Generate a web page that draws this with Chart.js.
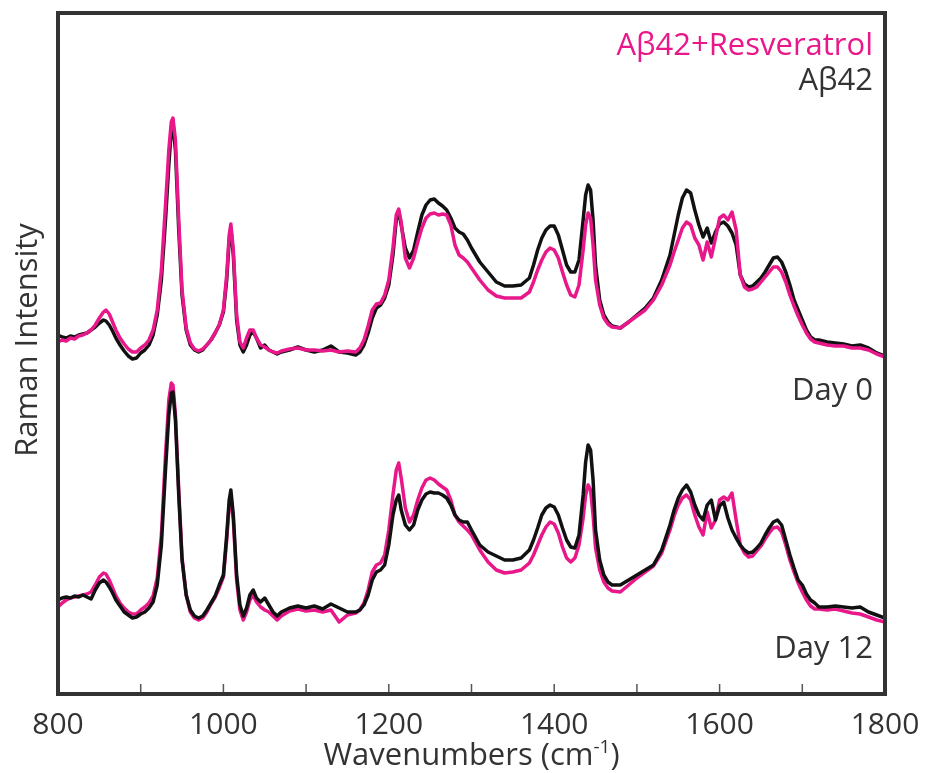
<!DOCTYPE html>
<html lang="en">
<head>
  <meta charset="UTF-8">
  <title>Raman spectra of Aβ42 with and without resveratrol</title>
  <script src="https://cdn.jsdelivr.net/npm/chart.js"></script>
  <style>
    body { margin: 0; background: #fff; }
  </style>
</head>
<body>
  <canvas id="ramanChart" width="926" height="773"></canvas>

  <script>
    // Raman shift (cm-1) sampled for all four spectra
    const wavenumbers = [
      800, 805, 810, 815, 820, 825, 830, 835, 840, 845,
      850, 855, 858, 862, 866, 870, 875, 880, 885, 890,
      895, 900, 905, 910, 915, 920, 925, 930, 934, 937,
      939, 942, 946, 950, 955, 960, 965, 970, 975, 980,
      985, 990, 995, 1000, 1004, 1007, 1009, 1012, 1016, 1020,
      1024, 1028, 1032, 1036, 1040, 1045, 1050, 1055, 1060, 1065,
      1070, 1080, 1090, 1100, 1110, 1120, 1130, 1140, 1150, 1160,
      1165, 1170, 1175, 1180, 1185, 1190, 1195, 1200, 1205, 1209,
      1212, 1215, 1220, 1225, 1230, 1235, 1240, 1245, 1250, 1255,
      1260, 1265, 1270, 1275, 1280, 1285, 1290, 1295, 1300, 1310,
      1320, 1330, 1340, 1350, 1360, 1370, 1375, 1380, 1385, 1390,
      1395, 1400, 1405, 1410, 1415, 1420, 1425, 1430, 1435, 1438,
      1441, 1444, 1447, 1450, 1455, 1460, 1465, 1470, 1480, 1490,
      1500, 1510, 1520, 1530, 1540, 1545, 1550, 1555, 1560, 1565,
      1570, 1575, 1580, 1585, 1590, 1595, 1600, 1605, 1610, 1615,
      1620, 1625, 1630, 1635, 1640, 1645, 1650, 1655, 1660, 1665,
      1670, 1675, 1680, 1685, 1690, 1695, 1700, 1705, 1710, 1715,
      1720, 1730, 1740, 1750, 1760, 1770, 1780, 1790, 1800
    ];

    // Day 0, Aβ42 alone (offset spectrum, arbitrary units)
    const day0Abeta = [
      355, 353, 352, 354, 353, 355, 356, 357, 360, 363,
      367, 370, 369, 365, 359, 352, 345, 339, 334, 331,
      332, 337, 340, 345, 355, 375, 410, 470, 525, 560,
      565, 540, 460, 395, 360, 345, 340, 338, 340, 345,
      350, 357, 365, 378, 410, 450, 462, 435, 370, 345,
      338, 345, 355, 358, 352, 342, 345, 340, 338, 336,
      338, 340, 343, 340, 338, 340, 344, 338, 337, 335,
      338, 345, 357, 372, 382, 385, 392, 405, 435, 470,
      478, 465, 442, 432, 440, 458, 475, 485, 490, 491,
      487, 484, 480, 472, 462, 458, 456, 450, 442, 428,
      418, 408, 404, 404, 405, 412, 425, 440, 452, 460,
      464, 464, 455, 440, 425, 418, 418, 430, 470, 495,
      505, 500, 470, 425, 390, 375, 368, 364, 362, 368,
      375, 382, 392, 410, 435, 455, 475, 492, 500, 497,
      480, 465, 453, 462, 447, 458, 466, 468, 464, 457,
      445, 415, 406, 403, 404, 408, 412, 418, 425, 432,
      433, 428, 418, 405, 390, 380, 370, 360, 353, 350,
      350, 348, 347, 346, 344, 345, 342, 337, 334
    ];

    // Day 0, Aβ42 + resveratrol
    const day0Resv = [
      348, 350, 349, 352, 351, 354, 355, 357, 360, 365,
      372, 378, 380, 376, 368, 360, 352, 346, 341, 338,
      338, 342, 345, 350, 360, 380, 420, 485, 540, 568,
      572, 550, 470, 400, 362, 347, 341, 339, 341, 345,
      350, 357, 365, 380, 415, 455, 466, 440, 375, 348,
      342, 352, 360, 360, 352, 345, 343, 340, 338, 337,
      339, 341, 342, 340, 340, 339, 340, 338, 339, 338,
      342, 350, 364, 380, 386, 387, 395, 410, 442, 475,
      481, 468, 432, 422, 432, 448, 462, 472, 476, 477,
      475, 476, 475, 465, 445, 435, 432, 428, 422, 410,
      400, 394, 392, 392, 392, 398, 408, 420, 430, 438,
      442, 440, 432, 418, 405, 395, 393, 405, 440, 465,
      477, 472, 445, 410, 385, 372, 366, 363, 362, 368,
      374, 380, 390, 405, 425, 438, 450, 462, 468, 465,
      452, 445, 430, 448, 433, 452, 472, 475, 470, 478,
      460, 415, 403, 400, 401, 403, 408, 413, 418, 423,
      423, 418, 408, 395, 384, 374, 365, 357, 351, 348,
      347, 345, 344, 344, 342, 342, 340, 336, 333
    ];

    // Day 12, Aβ42 alone
    const day12Abeta = [
      90, 92, 93, 92, 94, 93, 95, 93, 91, 100,
      107, 110, 108, 103, 97, 90, 84, 78, 75, 72,
      73, 76, 78, 82, 88, 105, 145, 220, 275, 297,
      298, 270, 195, 130, 95, 80, 74, 72, 74, 80,
      87, 94, 105, 115, 155, 190, 200, 175, 115, 85,
      74, 82, 95, 100, 92, 88, 92, 85, 78, 74,
      78, 82, 84, 82, 84, 81, 86, 82, 78, 78,
      80, 85, 95, 110, 118, 120, 125, 145, 175, 190,
      195, 180, 165, 160, 165, 180, 190, 196, 198, 197,
      197, 195, 192, 185, 175, 170, 168, 168, 160, 145,
      138, 134, 130, 130, 132, 140, 150, 162, 175, 182,
      185, 183, 175, 162, 150, 143, 142, 155, 195, 228,
      245, 240, 210, 160, 130, 115, 108, 105, 105, 110,
      115, 120, 125, 140, 165, 180, 192, 200, 205, 198,
      185, 175, 170, 185, 190, 170, 184, 188, 172, 160,
      152, 145, 140, 137, 138, 142, 147, 155, 162, 168,
      170, 165, 150, 135, 122, 110, 105, 96, 90, 87,
      83, 83, 84, 83, 82, 83, 78, 75, 72
    ];

    // Day 12, Aβ42 + resveratrol
    const day12Resv = [
      83, 87, 90, 92, 93, 94, 95, 96, 98, 105,
      113, 117, 116, 110, 102, 94, 87, 82, 78, 76,
      76, 80, 83, 87, 94, 112, 155, 235, 290, 307,
      305, 275, 200, 132, 95, 78, 72, 70, 72, 78,
      86, 93, 102, 113, 150, 185, 193, 170, 110, 80,
      70, 78, 90, 95, 88, 83, 80, 78, 74, 70,
      74, 79, 81, 79, 80, 78, 80, 68, 75, 77,
      80, 87, 100, 118, 125, 127, 135, 160, 195, 220,
      227, 212, 182, 168, 175, 190, 202, 210, 212, 210,
      206, 203, 200, 190, 175, 168, 164, 160, 155, 140,
      128, 120, 117, 118, 120, 127, 135, 145, 155, 163,
      168, 166, 157, 143, 132, 128, 132, 145, 172, 195,
      205, 200, 175, 142, 120, 108, 102, 99, 98, 105,
      112, 118, 124, 137, 160, 174, 185, 192, 195, 190,
      175, 163, 155, 178, 162, 170, 190, 193, 190, 197,
      170, 145, 137, 133, 134, 139, 144, 151, 157, 162,
      163, 158, 145, 130, 118, 107, 98, 90, 84, 81,
      81, 80, 81, 79, 77, 76, 73, 70, 68
    ];

    const tickLabels = [800, 1000, 1200, 1400, 1600, 1800];

    const PINK = '#e8178a';
    const BLACK = '#111111';
    const TEXT = '#333333';
    const FONT = "'Open Sans', 'Noto Sans', sans-serif";

    const toPoints = values => wavenumbers.map((x, i) => ({ x: x, y: values[i] }));

    const line = (values, color, order) => ({
      data: toPoints(values),
      borderColor: color,
      borderWidth: 3.5,
      borderJoinStyle: 'round',
      pointRadius: 0,
      tension: 0,
      order: order
    });

    // frame, inward tick marks and all the labels inside/around the plot
    const frameAndText = {
      id: 'frameAndText',
      afterDatasetsDraw(chart) {
        const { ctx, chartArea: a, scales: { x } } = chart;
        ctx.save();

        ctx.strokeStyle = '#555';
        ctx.lineWidth = 1.5;
        x.ticks.forEach(t => {
          const px = x.getPixelForValue(t.value);
          ctx.beginPath();
          ctx.moveTo(px, a.bottom);
          ctx.lineTo(px, a.bottom - 10);
          ctx.stroke();
        });

        ctx.strokeStyle = '#333';
        ctx.lineWidth = 4;
        ctx.strokeRect(a.left, a.top, a.right - a.left, a.bottom - a.top);

        ctx.font = '31px ' + FONT;
        ctx.textAlign = 'right';
        ctx.textBaseline = 'alphabetic';
        const rx = a.right - 12;
        ctx.fillStyle = PINK;
        ctx.fillText('Aβ42+Resveratrol', rx, 55);
        ctx.fillStyle = TEXT;
        ctx.fillText('Aβ42', rx, 90);
        ctx.fillText('Day 0', rx, 400);
        ctx.fillText('Day 12', rx, 658);

        // y axis title
        ctx.save();
        ctx.translate(37, 340);
        ctx.rotate(-Math.PI / 2);
        ctx.textAlign = 'center';
        ctx.fillText('Raman Intensity', 0, 0);
        ctx.restore();

        // x axis title with superscript
        const main = 'Wavenumbers (cm';
        const sup = '-1';
        ctx.textAlign = 'left';
        ctx.font = '31px ' + FONT;
        const wMain = ctx.measureText(main).width;
        const wClose = ctx.measureText(')').width;
        ctx.font = '19px ' + FONT;
        const wSup = ctx.measureText(sup).width;
        let tx = (a.left + a.right) / 2 - (wMain + wSup + wClose) / 2;
        const ty = 765;
        ctx.font = '31px ' + FONT;
        ctx.fillText(main, tx, ty);
        tx += wMain;
        ctx.font = '19px ' + FONT;
        ctx.fillText(sup, tx, ty - 12);
        tx += wSup;
        ctx.font = '31px ' + FONT;
        ctx.fillText(')', tx, ty);

        ctx.restore();
      }
    };

    const ctx = document.getElementById('ramanChart').getContext('2d');
    const ramanChart = new Chart(ctx, {
      type: 'line',
      data: {
        datasets: [
          line(day0Resv, PINK, 1),
          line(day0Abeta, BLACK, 2),
          line(day12Abeta, BLACK, 3),
          line(day12Resv, PINK, 4)
        ]
      },
      options: {
        responsive: false,
        animation: false,
        layout: { padding: { left: 58, right: 41, top: 13, bottom: 0 } },
        plugins: {
          legend: { display: false },
          tooltip: { enabled: false }
        },
        scales: {
          x: {
            type: 'linear',
            min: 800,
            max: 1800,
            grid: { display: false },
            border: { display: false },
            ticks: {
              stepSize: 100,
              padding: 5,
              color: TEXT,
              font: { family: FONT, size: 30 },
              maxRotation: 0,
              autoSkip: false,
              callback: v => tickLabels.includes(v) ? String(v) : ''
            },
            afterFit: scale => { scale.height = 79; }
          },
          y: {
            display: false,
            min: -4,
            max: 677
          }
        }
      },
      plugins: [frameAndText]
    });
  </script>
</body>
</html>
